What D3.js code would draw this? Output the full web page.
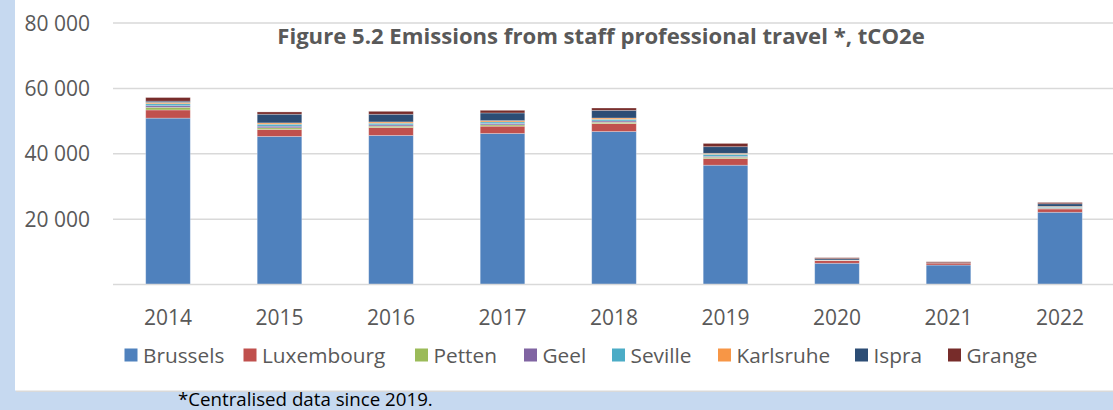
<!DOCTYPE html>
<html>
<head>
<meta charset="utf-8">
<script src="https://cdn.jsdelivr.net/npm/d3@7"></script>
<style>
  html, body { margin: 0; padding: 0; background: #c6d9f0; }
  svg { display: block; }
</style>
</head>
<body>
<svg id="chart" width="1113" height="410"></svg>
<script>
const years = ["2014","2015","2016","2017","2018","2019","2020","2021","2022"];
const seriesNames = ["Brussels","Luxembourg","Petten","Geel","Seville","Karlsruhe","Ispra","Grange"];
const brussels   = [50900, 45300, 45600, 46200, 46800, 36500, 6500, 5950, 22100];
const luxembourg = [2500, 2140, 2440, 2240, 2440, 2030, 800, 600, 1000];
const petten     = [800, 500, 400, 400, 400, 400, 50, 0, 200];
const geel       = [500, 500, 400, 400, 400, 300, 50, 0, 200];
const seville    = [600, 600, 500, 500, 500, 600, 50, 0, 200];
const karlsruhe  = [400, 400, 400, 400, 400, 300, 50, 0, 200];
const ispra      = [400, 2650, 2340, 2340, 2340, 2030, 400, 100, 800];
const grange     = [1100, 700, 900, 810, 710, 1000, 300, 300, 400];
const yTicks = [20000, 40000, 60000, 80000];
const colors = ["#4f81bd","#c0504d","#9bbb59","#8064a2","#4bacc6","#f79646","#2c4d75","#772c2a"];

const seriesValues = [brussels, luxembourg, petten, geel, seville, karlsruhe, ispra, grange];
const table = years.map((y, i) => {
  const row = { year: y };
  seriesNames.forEach((n, k) => row[n] = seriesValues[k][i]);
  return row;
});

const svg = d3.select("#chart");
const font = "'Open Sans', 'DejaVu Sans', sans-serif";

// panel
svg.append("rect").attr("x", 16).attr("y", 0).attr("width", 1097).attr("height", 392)
  .attr("fill", "#d9d9d9");
svg.append("rect").attr("x", 15).attr("y", 0).attr("width", 1098).attr("height", 390.5)
  .attr("fill", "#ffffff");

const x = d3.scaleBand().domain(years).range([112.25, 1115.75]).paddingInner(0.6).paddingOuter(0.3);
const y = d3.scaleLinear().domain([0, 80000]).range([284.5, 23]);

// gridlines
svg.append("g").selectAll("line").data(yTicks).join("line")
  .attr("x1", 113).attr("x2", 1113)
  .attr("y1", d => y(d)).attr("y2", d => y(d))
  .attr("stroke", "#d9d9d9").attr("stroke-width", 1.5);

// y labels
const fmt = d => d3.format(",")(d).replace(/,/g, " ");
svg.append("g").selectAll("text").data(yTicks).join("text")
  .attr("x", 90).attr("y", d => y(d) + 7.5)
  .attr("text-anchor", "end")
  .attr("font-family", font).attr("font-size", 21).attr("fill", "#595959")
  .text(fmt);

// stacked bars
const stack = d3.stack().keys(seriesNames)(table);
svg.append("g").selectAll("g").data(stack).join("g")
  .attr("fill", (d, i) => colors[i])
  .selectAll("rect").data(d => d).join("rect")
  .attr("x", d => x(d.data.year))
  .attr("width", x.bandwidth())
  .attr("y", d => y(d[1]))
  .attr("height", d => Math.max(0, y(d[0]) - y(d[1])))
  .attr("stroke", "#ffffff").attr("stroke-opacity", 0.35).attr("stroke-width", 0.8);

// baseline
svg.append("line").attr("x1", 113).attr("x2", 1113)
  .attr("y1", y(0)).attr("y2", y(0))
  .attr("stroke", "#d9d9d9").attr("stroke-width", 1.5);

// x labels
svg.append("g").selectAll("text").data(years).join("text")
  .attr("x", d => x(d) + x.bandwidth() / 2).attr("y", 324.5)
  .attr("text-anchor", "middle")
  .attr("font-family", font).attr("font-size", 21).attr("fill", "#595959")
  .text(d => d);

function fitWidth(sel, target) {
  const w = sel.node().getComputedTextLength();
  const fs = parseFloat(sel.attr("font-size"));
  sel.attr("font-size", fs * target / w);
}

// title
const title = svg.append("text")
  .attr("x", 601).attr("y", 43.5).attr("text-anchor", "middle")
  .attr("font-family", font).attr("font-weight", "bold").attr("font-size", 20)
  .attr("fill", "#595959")
  .text("Figure 5.2 Emissions from staff professional travel *, tCO2e");
fitWidth(title, 648);

// legend
const legendX = [124.5, 243.5, 415, 524, 612, 718, 855, 948];
const legendTextW = [78, 121, 64, 54, 61, 92, 47, 69];
const lg = svg.append("g");
const texts = [];
seriesNames.forEach((n, i) => {
  lg.append("rect").attr("x", legendX[i]).attr("y", 348.5).attr("width", 13).attr("height", 13)
    .attr("fill", colors[i]);
  const t = lg.append("text").attr("x", legendX[i] + 18.5).attr("y", 362.5)
    .attr("font-family", font).attr("font-size", 20).attr("fill", "#595959")
    .text(n);
  texts.push(t);
});
const measured = d3.sum(texts, t => t.node().getComputedTextLength());
const legendFs = 20 * d3.sum(legendTextW) / measured;
texts.forEach(t => t.attr("font-size", legendFs));

// footnote
const foot = svg.append("text").attr("x", 178).attr("y", 406)
  .attr("font-family", font).attr("font-size", 17).attr("fill", "#000000")
  .text("*Centralised data since 2019.");
fitWidth(foot, 255);
</script>
</body>
</html>
